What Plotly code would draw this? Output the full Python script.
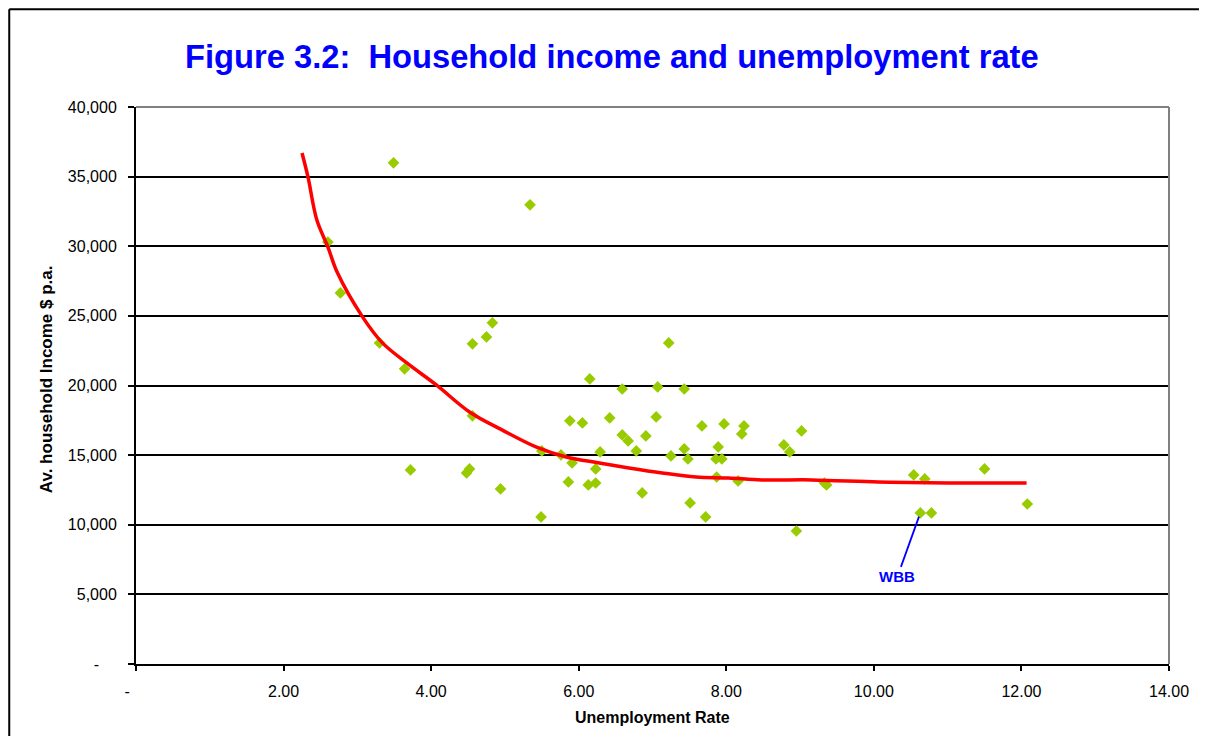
import plotly.graph_objects as go

# Scatter data: unemployment rate (%) vs average household income ($ p.a.)
unemp = [2.60, 2.77, 3.49, 3.30, 3.64, 4.56, 4.75, 4.83, 5.34, 4.56, 3.72, 4.48, 4.52,
         4.94, 5.49, 5.50, 5.76, 5.88, 6.05, 5.91, 5.86, 6.13, 6.23, 6.23, 6.15, 6.29,
         6.42, 6.59, 6.59, 6.67, 6.78, 6.86, 6.91, 7.05, 7.07, 7.25, 7.22, 7.43, 7.43,
         7.48, 7.51, 7.67, 7.72, 7.86, 7.94, 7.87, 7.89, 7.97, 8.16, 8.24, 8.21, 8.78,
         8.86, 8.95, 9.02, 9.33, 9.36, 10.54, 10.69, 10.63, 10.78, 11.50, 12.08]
income = [30300, 26650, 35990, 23060, 21200, 22990, 23490, 24500, 32975, 17820, 13940, 13720, 14010,
          12570, 10560, 15300, 15015, 17460, 17310, 14440, 13075, 12860, 13000, 14010, 20470, 15230,
          17670, 19750, 16450, 16020, 15300, 12285, 16380, 17745, 19900, 14940, 23060, 19750, 15445,
          14730, 11570, 17100, 10560, 14730, 14730, 13430, 15590, 17240, 13150, 17100, 16520, 15730,
          15230, 9550, 16740, 13000, 12860, 13580, 13290, 10850, 10850, 14010, 11490]

# Trend line
trend_x = [2.25, 2.33, 2.45, 2.60, 2.73, 3.07, 3.34, 3.67, 4.07, 4.52, 4.96, 5.42, 5.83,
           6.28, 6.68, 7.13, 7.59, 8.03, 8.48, 9.16, 10.06, 11.00, 12.07]
trend_y = [36700, 35000, 31900, 29960, 28090, 24930, 23060, 21620, 20040, 18100, 16810, 15590, 14870,
           14440, 14080, 13720, 13430, 13360, 13220, 13220, 13075, 13000, 13000]

x_ticks = [0, 2, 4, 6, 8, 10, 12, 14]
x_ticktext = ["-\u00a0\u00a0\u00a0\u00a0", "2.00", "4.00", "6.00", "8.00", "10.00", "12.00", "14.00"]
y_ticks = [0, 5000, 10000, 15000, 20000, 25000, 30000, 35000, 40000]
y_ticktext = ["-\u00a0\u00a0\u00a0\u00a0", "5,000", "10,000", "15,000", "20,000", "25,000", "30,000", "35,000", "40,000"]

FONT = "Liberation Sans, Arial, sans-serif"

fig = go.Figure()
fig.add_trace(go.Scatter(x=unemp, y=income, mode="markers",
                         marker=dict(symbol="diamond", size=9, color="#99CC00", line=dict(width=0)),
                         showlegend=False))
fig.add_trace(go.Scatter(x=trend_x, y=trend_y, mode="lines",
                         line=dict(color="#FF0000", width=3.5, shape="spline", smoothing=1.0),
                         showlegend=False))

# page has an 8px body margin: figure origin sits at screen (8, 8)
OFF = 8
W, H = 1193, 728
L, T = 136 - OFF, 107 - OFF
R = W - (1171 - OFF)
B = H - (664 - OFF)
pw, ph = W - L - R, H - T - B

def px(xs):  # screen x -> paper
    return (xs - OFF - L) / pw

def py(ys):  # screen y -> paper
    return (H - B - (ys - OFF)) / ph

fig.update_layout(
    width=W, height=H,
    margin=dict(l=L, r=R, t=T, b=B),
    paper_bgcolor="white", plot_bgcolor="white",
    font=dict(family=FONT, size=16, color="black"),
    xaxis=dict(range=[0, 14], tickvals=x_ticks, ticktext=x_ticktext, showgrid=False,
               zeroline=False, showline=True, linecolor="black", linewidth=2,
               ticks="outside", ticklen=5, tickwidth=1.5, tickcolor="black",
               ticklabelstandoff=7, tickfont=dict(size=16, family=FONT)),
    yaxis=dict(range=[0, 40000], tickvals=y_ticks, ticktext=y_ticktext, showgrid=True,
               gridcolor="black", gridwidth=1.5, zeroline=False, showline=True,
               linecolor="black", linewidth=2, ticks="outside", ticklen=6, tickwidth=1.5,
               tickcolor="black", ticklabelstandoff=8, tickfont=dict(size=16, family=FONT)),
    shapes=[
        dict(type="line", xref="paper", yref="paper", x0=0, x1=1, y0=1, y1=1,
             line=dict(color="#808080", width=2), layer="above"),
        dict(type="line", xref="paper", yref="paper", x0=1, x1=1, y0=0, y1=1,
             line=dict(color="#808080", width=2), layer="above"),
        # outer chart border (left and top edges visible in the frame)
        dict(type="line", xref="paper", yref="paper", x0=px(9), x1=px(1201), y0=py(9.2), y1=py(9.2),
             line=dict(color="black", width=2), layer="above"),
        dict(type="line", xref="paper", yref="paper", x0=px(9), x1=px(9), y0=py(9.2), y1=py(736),
             line=dict(color="black", width=2), layer="above"),
    ],
    annotations=[
        dict(text="<b>Figure 3.2:\u00a0 Household income and unemployment rate</b>",
             xref="paper", yref="paper", x=px(613), y=py(57), xanchor="center", yanchor="middle",
             showarrow=False, font=dict(size=32.7, color="#0000FF", family=FONT)),
        dict(text="<b>Av. household Income $ p.a.</b>", xref="paper", yref="paper",
             x=px(46), y=py(379), xanchor="center", yanchor="middle", textangle=-90,
             showarrow=False, font=dict(size=17, color="black", family=FONT)),
        dict(text="<b>Unemployment Rate</b>", xref="paper", yref="paper",
             x=px(653), y=py(717), xanchor="center", yanchor="middle",
             showarrow=False, font=dict(size=16, color="black", family=FONT)),
        dict(text="<b>WBB</b>", x=10.63, y=10850, xref="x", yref="y",
             showarrow=True, arrowhead=0, arrowwidth=1.8, arrowcolor="#0000FF",
             ax=-23, ay=64, standoff=4, font=dict(size=15, color="#0000FF", family=FONT)),
    ],
)

fig.write_html("out.html")
